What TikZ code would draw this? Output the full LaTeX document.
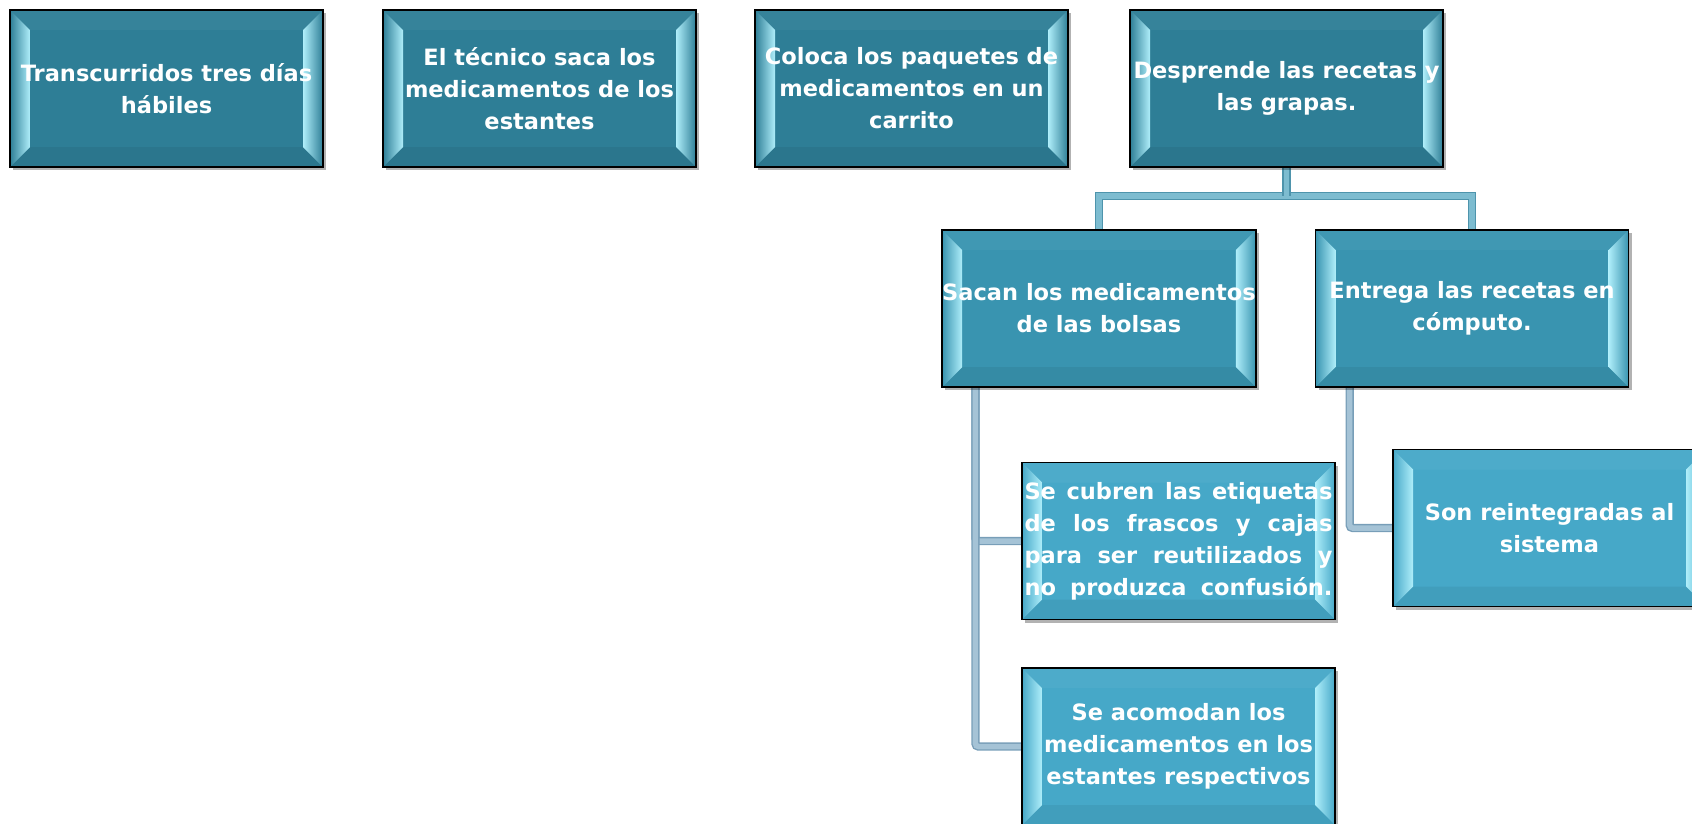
\documentclass[tikz,border=0pt]{standalone}
\usepackage{fontspec}
\setmainfont{DejaVu Sans}
\usetikzlibrary{shadows,calc,backgrounds}
\definecolor{topc}{RGB}{46,126,150}
\definecolor{midc}{RGB}{57,148,176}
\definecolor{lowc}{RGB}{70,168,200}
\definecolor{glow}{RGB}{175,238,250}
\definecolor{conn}{RGB}{125,188,208}
\definecolor{connedge}{RGB}{78,148,172}
\definecolor{conng}{RGB}{165,195,214}
\definecolor{conngedge}{RGB}{120,158,184}
\tikzset{
 bx/.style={draw=black, line width=1.6pt, fill=#1, minimum width=313pt, minimum height=157pt,
  inner sep=0pt, text=white, font=\bfseries\fontsize{22.5}{32}\selectfont, align=center,
  drop shadow={shadow xshift=3pt,shadow yshift=-3pt,opacity=0.3,fill=black},
  path picture={
   \path (path picture bounding box.north west) coordinate (pnw)
         (path picture bounding box.south east) coordinate (pse);
   \fill[white,opacity=0.04] (pnw) -- (pnw -| pse) -- ($(pnw -| pse)+(-20,20)$) -- ($(pnw)+(20,20)$) -- cycle;
   \fill[black,opacity=0.06] (pnw |- pse) -- (pse) -- ($(pse)+(-20,-20)$) -- ($(pnw |- pse)+(20,-20)$) -- cycle;
   \shade[left color=#1, right color=glow] (pnw) -- ($(pnw)+(20,20)$) -- ($(pnw |- pse)+(20,-20)$) -- (pnw |- pse) -- cycle;
   \shade[left color=glow, right color=#1] (pnw -| pse) -- ($(pnw -| pse)+(-20,20)$) -- ($(pse)+(-20,-20)$) -- (pse) -- cycle;
  }},
 lnk/.style={draw=connedge, line width=1.4pt, double=conn, double distance=5.5pt, line join=miter},
 lnkg/.style={draw=conngedge, line width=1.4pt, double=conng, double distance=5.5pt, rounded corners=3pt}
}
\newcommand{\jline}[1]{\leavevmode\hbox to 308pt{\spaceskip=0.3em plus 1fil\relax #1}}
\begin{document}
\begin{tikzpicture}[x=1pt,y=-1pt]
\useasboundingbox (0,0) rectangle (1692,823);
\node[bx=topc] (n1) at (166.5,88.5) {Transcurridos tres días\\hábiles};
\node[bx=topc] (n2) at (539.5,88.5) {El técnico saca los\\medicamentos de los\\estantes};
\node[bx=topc] (n3) at (911.5,88.5) {Coloca los paquetes de\\medicamentos en un\\carrito};
\node[bx=topc] (n4) at (1286.5,88.5) {Desprende las recetas y\\las grapas.};
\node[bx=midc] (n5) at (1099,308.5) {Sacan los medicamentos\\de las bolsas};
\node[bx=midc] (n6) at (1472,308.5) {Entrega las recetas en\\cómputo.};
\node[bx=lowc] (n7) at (1178.5,541) {\jline{Se cubren las etiquetas}\\\jline{de los frascos y cajas}\\\jline{para ser reutilizados y}\\\jline{no produzca confusión.}};
\node[bx=lowc] (n8) at (1178.5,746.5) {Se acomodan los\\medicamentos en los\\estantes respectivos};
\node[bx=lowc] (n9) at (1549.5,528) {Son reintegradas al\\sistema};
\begin{scope}[on background layer]
 \coordinate (j4) at ($(n4.south)+(0,28)$);
 \draw[lnk] (n5.north) |- (j4) -| (n6.north);
 \draw[lnk] (n4.south) -- (j4);
 \coordinate (l5) at ([xshift=34pt]n5.south west);
 \draw[lnkg] (l5) |- (n7.west);
 \draw[lnkg] (l5) |- (n8.west);
 \coordinate (l6) at ([xshift=35pt]n6.south west);
 \draw[lnkg] (l6) |- (n9.west);
\end{scope}
\end{tikzpicture}
\end{document}
